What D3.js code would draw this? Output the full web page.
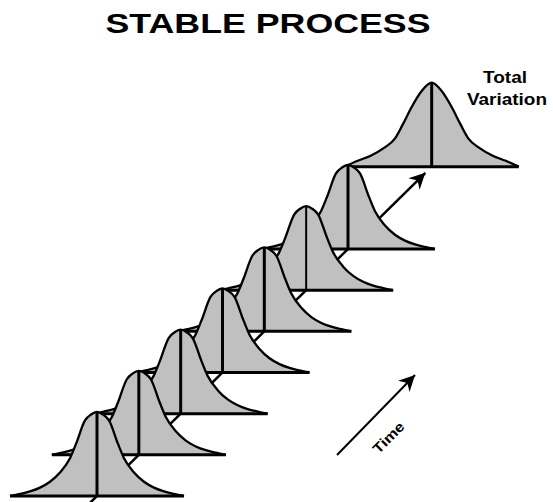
<!DOCTYPE html>
<html>
<head>
<meta charset="utf-8">
<script src="https://cdn.jsdelivr.net/npm/d3@7"></script>
<style>
  body { margin: 0; background: #fff; }
  svg { display: block; font-family: "Liberation Sans", Arial, sans-serif; }
</style>
</head>
<body>
<svg width="553" height="502"></svg>
<script>
var width = 553, height = 502;

// time steps of the stable process, and where the total distribution sits
var steps = [0, 1, 2, 3, 4, 5, 6];
var totalStep = 8;

// bell shape of each time slice (offset in spread units, relative height)
var stableOffsets = [-4.35, -3.85, -3.35, -2.85, -2.35, -1.85, -1.35, -1.05, -0.6, -0.3, 0,
                     0.3, 0.6, 1.05, 1.35, 1.85, 2.35, 2.85, 3.35, 3.85, 4.35];
var stableDensity = [0, 0.025, 0.055, 0.10, 0.17, 0.28, 0.45, 0.62, 0.90, 0.97, 1,
                     0.97, 0.90, 0.62, 0.45, 0.28, 0.17, 0.10, 0.055, 0.025, 0];

// wider shape of the total variation
var totalOffsets = [-4.35, -3.7, -3.05, -2.4, -1.85, -1.45, -1.0, -0.5, 0,
                    0.5, 1.0, 1.45, 1.85, 2.4, 3.05, 3.7, 4.35];
var totalDensity = [0, 0.07, 0.13, 0.22, 0.33, 0.5, 0.71, 0.9, 1,
                    0.9, 0.71, 0.5, 0.33, 0.22, 0.13, 0.07, 0];

var titleText = "STABLE PROCESS";
var totalLabel = ["Total", "Variation"];
var timeLabel = "Time";

var svg = d3.select("svg");

var xPos = d3.scaleLinear().domain([0, 6]).range([97, 348]);
var yPos = d3.scaleLinear().domain([0, 6]).range([496, 249]);
var spread = d3.scaleLinear().domain([0, 1]).range([0, 20]);
var hgt = d3.scaleLinear().domain([0, 1]).range([0, 84]);

var defs = svg.append("defs");
defs.append("marker")
    .attr("id", "head")
    .attr("markerUnits", "userSpaceOnUse")
    .attr("viewBox", "-18 -10 20 20")
    .attr("markerWidth", 20).attr("markerHeight", 20)
    .attr("refX", 0).attr("refY", 0)
    .attr("orient", "auto")
  .append("path")
    .attr("d", "M0,0 L-16,-8 L-11,0 L-16,8 Z")
    .attr("fill", "#000");

// time axis running behind the slices
var axisT = [-0.25, 7.85];
svg.append("line")
    .attr("x1", xPos(axisT[0])).attr("y1", yPos(axisT[0]))
    .attr("x2", xPos(axisT[1])).attr("y2", yPos(axisT[1]))
    .attr("stroke", "#000").attr("stroke-width", 2.5)
    .attr("marker-end", "url(#head)");

function drawCurve(t, offsets, dens, vWidth) {
  var cx = xPos(t), base = yPos(t);
  var pts = offsets.map(function(u, i) { return {u: u, v: dens[i]}; });
  var g = svg.append("g");

  g.append("path")
      .datum(pts)
      .attr("d", d3.area()
        .x(function(d) { return cx + spread(d.u); })
        .y0(base)
        .y1(function(d) { return base - hgt(d.v); })
        .curve(d3.curveMonotoneX))
      .attr("fill", "#c0c0c0");

  g.append("path")
      .datum(pts)
      .attr("d", d3.line()
        .x(function(d) { return cx + spread(d.u); })
        .y(function(d) { return base - hgt(d.v); })
        .curve(d3.curveMonotoneX))
      .attr("fill", "none")
      .attr("stroke", "#000")
      .attr("stroke-width", 2.3)
      .attr("stroke-linejoin", "round");

  g.append("line")
      .attr("x1", cx + spread(offsets[0])).attr("x2", cx + spread(offsets[offsets.length - 1]))
      .attr("y1", base).attr("y2", base)
      .attr("stroke", "#000").attr("stroke-width", 3);

  g.append("line")
      .attr("x1", cx).attr("x2", cx)
      .attr("y1", base).attr("y2", base - hgt(1))
      .attr("stroke", "#000").attr("stroke-width", vWidth);
}

drawCurve(totalStep, totalOffsets, totalDensity, 3);
steps.slice().reverse().forEach(function(t) {
  drawCurve(t, stableOffsets, stableDensity, t === 5 ? 2 : 3);
});

// title
svg.append("text")
    .attr("x", 268).attr("y", 33)
    .attr("text-anchor", "middle")
    .attr("font-size", 28).attr("font-weight", "bold")
    .attr("textLength", 325).attr("lengthAdjust", "spacingAndGlyphs")
    .text(titleText);

// total variation label
svg.append("text")
    .attr("x", 505).attr("y", 83)
    .attr("text-anchor", "middle")
    .attr("font-size", 16).attr("font-weight", "bold")
    .attr("textLength", 44).attr("lengthAdjust", "spacingAndGlyphs")
    .text(totalLabel[0]);
svg.append("text")
    .attr("x", 507).attr("y", 105)
    .attr("text-anchor", "middle")
    .attr("font-size", 16).attr("font-weight", "bold")
    .attr("textLength", 80).attr("lengthAdjust", "spacingAndGlyphs")
    .text(totalLabel[1]);

// time arrow and label
svg.append("line")
    .attr("x1", 337).attr("y1", 455)
    .attr("x2", 415).attr("y2", 375)
    .attr("stroke", "#000").attr("stroke-width", 2)
    .attr("marker-end", "url(#head)");

svg.append("text")
    .attr("transform", "translate(392,441) rotate(-45)")
    .attr("text-anchor", "middle")
    .attr("font-size", 14).attr("font-weight", "bold")
    .attr("textLength", 38).attr("lengthAdjust", "spacingAndGlyphs")
    .text(timeLabel);
</script>
</body>
</html>
